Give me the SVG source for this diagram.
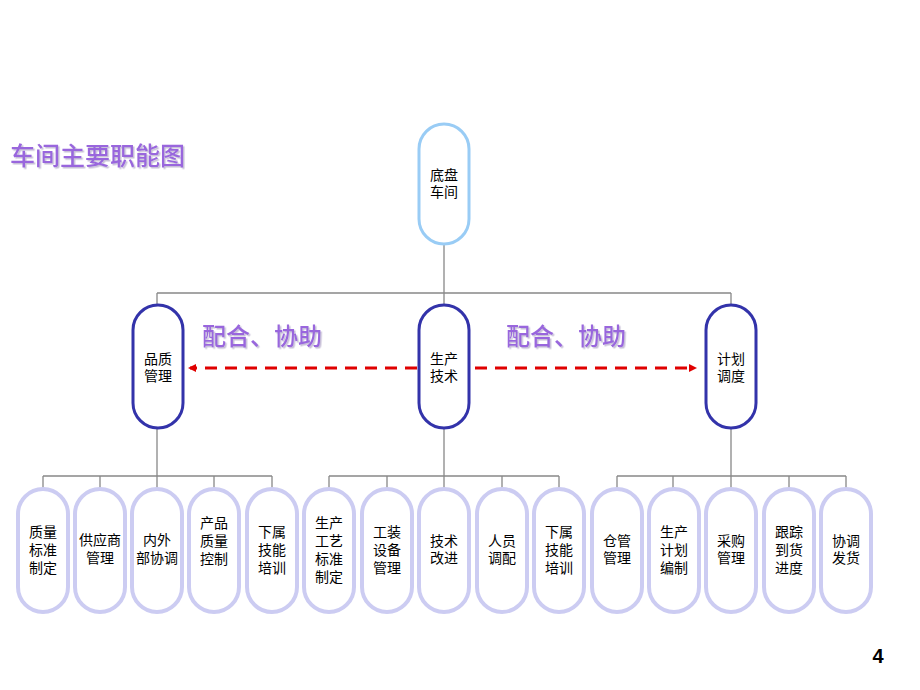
<svg xmlns="http://www.w3.org/2000/svg" width="920" height="690" viewBox="0 0 920 690">
<defs>
<style>
.t{font-family:"Liberation Sans","Noto Sans CJK SC",sans-serif;font-size:14px;fill:#000;text-anchor:middle}
.top{fill:#fff;stroke:#99ccf5;stroke-width:3}
.mid{fill:#fff;stroke:#3333aa;stroke-width:3}
.bot{fill:#fff;stroke:#ccccf2;stroke-width:4}
.ln{stroke:#888;stroke-width:1.3;fill:none}
.ttl{font-family:"Noto Sans CJK SC",sans-serif;font-size:25px;font-weight:500;fill:#9966dd;filter:url(#shd)}
.lbl{font-family:"Noto Sans CJK SC",sans-serif;font-size:24px;font-weight:500;fill:#9966dd;filter:url(#shd)}
.red{stroke:#e00000;stroke-width:3;stroke-dasharray:12,8;fill:none}
</style>
<filter id="shd" x="-5%" y="-20%" width="110%" height="140%">
<feDropShadow dx="1.5" dy="1.5" stdDeviation="0.6" flood-color="#c8c0d8" flood-opacity="1"/>
</filter>
<marker id="ah" markerWidth="8" markerHeight="8" refX="6" refY="4" orient="auto" markerUnits="userSpaceOnUse">
<path d="M0,0 L8,4 L0,8 z" fill="#e00000"/>
</marker>
</defs>
<rect width="920" height="690" fill="#fff"/>

<g id="title">
<text class="ttl" x="10" y="165">车间主要职能图</text>
</g>

<g id="connectors">
<path class="ln" d="M444,245 V293 M157,293 H731 M157,293 V304 M444,293 V304 M731,293 V304"/>
<path class="ln" d="M157,429 V476 M43,476 H272 M43,476 V488 M100,476 V488 M157,476 V488 M214,476 V488 M272,476 V488"/>
<path class="ln" d="M444,429 V476 M329,476 H559 M329,476 V488 M387,476 V488 M444,476 V488 M502,476 V488 M559,476 V488"/>
<path class="ln" d="M731,429 V476 M617,476 H846 M617,476 V488 M673,476 V488 M731,476 V488 M789,476 V488 M846,476 V488"/>
<line class="red" x1="417" y1="368" x2="190" y2="368" marker-end="url(#ah)"/>
<line class="red" x1="475" y1="368" x2="695" y2="368" marker-end="url(#ah)"/>
</g>

<g id="labels">
<text class="lbl" x="202" y="345">配合、协助</text>
<text class="lbl" x="506" y="345">配合、协助</text>
</g>

<g id="n-root"><rect class="top" x="419" y="124" width="50" height="120" rx="25"/>
<text class="t" x="444" y="180">底盘</text><text class="t" x="444" y="197">车间</text></g>

<g id="n-pz"><rect class="mid" x="133" y="305" width="50" height="123" rx="25"/>
<text class="t" x="158" y="364">品质</text><text class="t" x="158" y="381">管理</text></g>
<g id="n-sc"><rect class="mid" x="419" y="305" width="50" height="123" rx="25"/>
<text class="t" x="444" y="364">生产</text><text class="t" x="444" y="381">技术</text></g>
<g id="n-jh"><rect class="mid" x="706" y="305" width="50" height="123" rx="25"/>
<text class="t" x="731" y="364">计划</text><text class="t" x="731" y="381">调度</text></g>

<g id="b1"><rect class="bot" x="18" y="489" width="50" height="123" rx="25"/>
<text class="t" x="43" y="537">质量</text><text class="t" x="43" y="555">标准</text><text class="t" x="43" y="573">制定</text></g>
<g id="b2"><rect class="bot" x="75" y="489" width="50" height="123" rx="25"/>
<text class="t" x="100" y="545">供应商</text><text class="t" x="100" y="563">管理</text></g>
<g id="b3"><rect class="bot" x="132" y="489" width="50" height="123" rx="25"/>
<text class="t" x="157" y="545">内外</text><text class="t" x="157" y="563">部协调</text></g>
<g id="b4"><rect class="bot" x="189" y="489" width="50" height="123" rx="25"/>
<text class="t" x="214" y="528">产品</text><text class="t" x="214" y="546">质量</text><text class="t" x="214" y="564">控制</text></g>
<g id="b5"><rect class="bot" x="247" y="489" width="50" height="123" rx="25"/>
<text class="t" x="272" y="537">下属</text><text class="t" x="272" y="555">技能</text><text class="t" x="272" y="573">培训</text></g>

<g id="b6"><rect class="bot" x="304" y="489" width="50" height="123" rx="25"/>
<text class="t" x="329" y="528">生产</text><text class="t" x="329" y="546">工艺</text><text class="t" x="329" y="564">标准</text><text class="t" x="329" y="582">制定</text></g>
<g id="b7"><rect class="bot" x="362" y="489" width="50" height="123" rx="25"/>
<text class="t" x="387" y="537">工装</text><text class="t" x="387" y="555">设备</text><text class="t" x="387" y="573">管理</text></g>
<g id="b8"><rect class="bot" x="419" y="489" width="50" height="123" rx="25"/>
<text class="t" x="444" y="546">技术</text><text class="t" x="444" y="563">改进</text></g>
<g id="b9"><rect class="bot" x="477" y="489" width="50" height="123" rx="25"/>
<text class="t" x="502" y="546">人员</text><text class="t" x="502" y="563">调配</text></g>
<g id="b10"><rect class="bot" x="534" y="489" width="50" height="123" rx="25"/>
<text class="t" x="559" y="537">下属</text><text class="t" x="559" y="555">技能</text><text class="t" x="559" y="573">培训</text></g>

<g id="b11"><rect class="bot" x="592" y="489" width="50" height="123" rx="25"/>
<text class="t" x="617" y="546">仓管</text><text class="t" x="617" y="563">管理</text></g>
<g id="b12"><rect class="bot" x="649" y="489" width="50" height="123" rx="25"/>
<text class="t" x="674" y="537">生产</text><text class="t" x="674" y="555">计划</text><text class="t" x="674" y="573">编制</text></g>
<g id="b13"><rect class="bot" x="706" y="489" width="50" height="123" rx="25"/>
<text class="t" x="731" y="546">采购</text><text class="t" x="731" y="563">管理</text></g>
<g id="b14"><rect class="bot" x="764" y="489" width="50" height="123" rx="25"/>
<text class="t" x="789" y="537">跟踪</text><text class="t" x="789" y="555">到货</text><text class="t" x="789" y="573">进度</text></g>
<g id="b15"><rect class="bot" x="821" y="489" width="50" height="123" rx="25"/>
<text class="t" x="846" y="546">协调</text><text class="t" x="846" y="563">发货</text></g>

<text x="878" y="663" style="font-family:'Liberation Sans',sans-serif;font-size:20px;font-weight:bold;fill:#000;text-anchor:middle">4</text>
</svg>
